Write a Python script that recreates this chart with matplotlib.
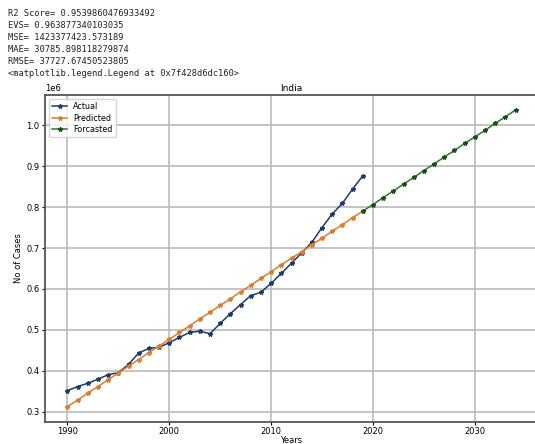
import numpy as np
import matplotlib
matplotlib.use("Agg")
import matplotlib.pyplot as plt

# years
years_actual = list(range(1990, 2020))
years_forecast = list(range(2019, 2035))

# no of cases (scale 1e6)
actual = [0.352, 0.362, 0.370, 0.380, 0.391, 0.396, 0.416, 0.444, 0.455, 0.458,
          0.469, 0.482, 0.494, 0.497, 0.491, 0.516, 0.540, 0.562, 0.584, 0.592,
          0.614, 0.638, 0.663, 0.688, 0.714, 0.750, 0.783, 0.809, 0.844, 0.876]
predicted = [0.313, 0.329, 0.346, 0.362, 0.379, 0.395, 0.412, 0.428, 0.445, 0.461,
             0.477, 0.494, 0.510, 0.527, 0.543, 0.560, 0.576, 0.593, 0.609, 0.626,
             0.642, 0.659, 0.675, 0.691, 0.708, 0.724, 0.741, 0.757, 0.774, 0.790]
forecast = [0.790, 0.806, 0.823, 0.839, 0.856, 0.872, 0.889, 0.905, 0.922, 0.938,
            0.955, 0.971, 0.987, 1.004, 1.020, 1.037]

metrics = ["R2 Score= 0.9539860476933492",
           "EVS= 0.963877340103035",
           "MSE= 1423377423.573189",
           "MAE= 30785.898118279874",
           "RMSE= 37727.67450523805",
           "<matplotlib.legend.Legend at 0x7f428d6dc160>"]

fig = plt.figure(figsize=(5.35, 4.44), dpi=100)

# notebook output text above the chart
for i, line in enumerate(metrics):
    fig.text(8 / 535, 1 - (14 + i * 12) / 444, line, family="DejaVu Sans Mono",
             fontsize=6.3, va="center", ha="left", color="#222222")

ax = fig.add_axes([45 / 535, 1 - 421.5 / 444, 493 / 535, 326.5 / 444])

ax.plot(years_actual, np.array(actual) * 1e6, color="#1f3b6b", marker="*",
        markersize=3.2, linewidth=1.1, label="Actual")
ax.plot(years_actual, np.array(predicted) * 1e6, color="#e07b2a", marker="*",
        markersize=3.2, linewidth=1.1, label="Predicted")
ax.plot(years_forecast, np.array(forecast) * 1e6, color="#2e7a2e", marker="*",
        markersize=3.2, linewidth=1.1, markeredgecolor="#1b4d1b",
        markerfacecolor="#1b4d1b", label="Forcasted")

ax.set_xticks([1990, 2000, 2010, 2020, 2030])
ax.grid(True, color="#bbbbbb", linewidth=1.2)
ax.tick_params(labelsize=6, length=2.5, pad=1.5)
ax.yaxis.get_offset_text().set_fontsize(6)
ax.set_title("India", fontsize=6.5, pad=3)
ax.set_xlabel("Years", fontsize=6, labelpad=0)
ax.set_ylabel("No of Cases", fontsize=6, labelpad=2)
for s in ax.spines.values():
    s.set_color("#555555")
    s.set_linewidth(1.3)
ax.legend(loc="upper left", fontsize=5.8, handlelength=1.8, borderpad=0.4,
          labelspacing=0.3)

fig.savefig("out.png", dpi=100)
